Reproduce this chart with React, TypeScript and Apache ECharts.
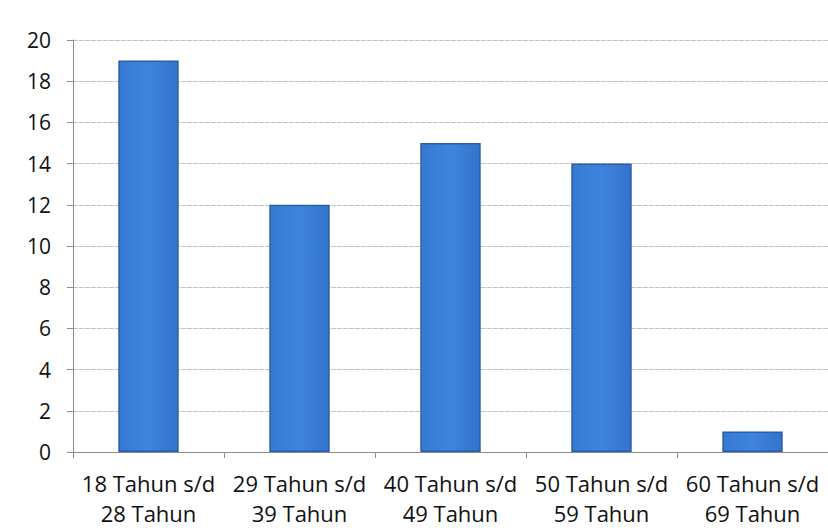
import React, { useEffect, useRef } from "react";
import * as echarts from "echarts";

const categories = [
  "18 Tahun s/d\n28 Tahun",
  "29 Tahun s/d\n39 Tahun",
  "40 Tahun s/d\n49 Tahun",
  "50 Tahun s/d\n59 Tahun",
  "60 Tahun s/d\n69 Tahun",
];
const values = [19, 12, 15, 14, 1];
const yMin = 0;
const yMax = 20;
const yInterval = 2;

export default function App() {
  const ref = useRef<HTMLDivElement>(null);
  useEffect(() => {
    if (!ref.current) return;
    const chart = echarts.init(ref.current, null, { renderer: "svg" });
    chart.setOption({
      animation: false,
      backgroundColor: "#ffffff",
      grid: { left: 73, top: 40, width: 757, bottom: 76, containLabel: false },
      xAxis: {
        type: "category",
        data: categories,
        axisLine: { show: true, lineStyle: { color: "#8c8c8c", width: 1 } },
        axisTick: { show: true, alignWithLabel: false, length: 6, lineStyle: { color: "#8c8c8c" } },
        axisLabel: {
          color: "#111111",
          fontSize: 22,
          fontFamily: "Open Sans, sans-serif",
          lineHeight: 30,
          margin: 16,
          interval: 0,
        },
      },
      yAxis: {
        type: "value",
        min: yMin,
        max: yMax,
        interval: yInterval,
        axisLine: { show: true, lineStyle: { color: "#8c8c8c", width: 1 } },
        axisTick: { show: true, length: 6, lineStyle: { color: "#8c8c8c" } },
        axisLabel: {
          color: "#111111",
          fontSize: 21,
          fontFamily: "Open Sans, sans-serif",
          margin: 22,
        },
        splitLine: { show: true, lineStyle: { color: "#c4c4c4", width: 1, type: [5, 1] } },
      },
      series: [
        {
          type: "bar",
          data: values,
          barWidth: "40%",
          itemStyle: {
            color: new echarts.graphic.LinearGradient(0, 0, 1, 0, [
              { offset: 0, color: "#3679d2" },
              { offset: 0.5, color: "#3e84de" },
              { offset: 1, color: "#3373cb" },
            ]),
            borderColor: "#2a5ca8",
            borderWidth: 1.5,
          },
        },
      ],
    });
    return () => chart.dispose();
  }, []);
  return (
    <div
      ref={ref}
      style={{ position: "fixed", left: 0, top: 0, width: 828, height: 528 }}
    />
  );
}
